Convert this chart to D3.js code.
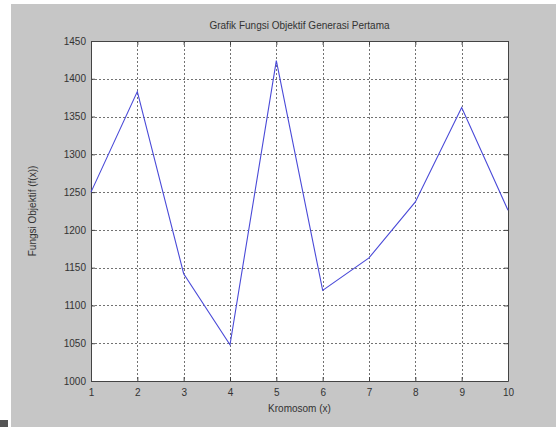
<!DOCTYPE html>
<html><head><meta charset="utf-8">
<script src="https://cdn.jsdelivr.net/npm/d3@7"></script>
<style>html,body{margin:0;padding:0;background:#fff;}svg{display:block;}</style>
</head><body>
<script>
const kromosom = [1,2,3,4,5,6,7,8,9,10];
const fitness = [1250,1383,1142,1048,1424,1120,1163,1237,1362,1226];
const xTicks = [1,2,3,4,5,6,7,8,9,10];
const yTicks = [1000,1050,1100,1150,1200,1250,1300,1350,1400,1450];
const titleText = "Grafik Fungsi Objektif Generasi Pertama";
const xLabel = "Kromosom (x)";
const yLabel = "Fungsi Objektif (f(x))";

const W = 556, H = 427;
const L = 91, R = 508, T = 41, B = 381;
const svg = d3.select("body").append("svg").attr("width", W).attr("height", H);
svg.append("rect").attr("x",0).attr("y",0).attr("width",W).attr("height",H).attr("fill","#fff");
svg.append("rect").attr("x",11).attr("y",4).attr("width",W-11).attr("height",H-4).attr("fill","#c6c6c6");
svg.append("rect").attr("x",0).attr("y",420).attr("width",8).attr("height",7).attr("fill","#555");

const x = d3.scaleLinear().domain([1,10]).range([L,R]);
const y = d3.scaleLinear().domain([1000,1450]).range([B,T]);

svg.append("rect").attr("x",L).attr("y",T).attr("width",R-L).attr("height",B-T).attr("fill","#fff");

const font = "'Liberation Sans', Arial, sans-serif";
const gridColor = "#444";
// grid
svg.append("g").selectAll("line").data(xTicks.slice(1,-1)).join("line")
  .attr("x1",d=>Math.round(x(d))+0.5).attr("x2",d=>Math.round(x(d))+0.5).attr("y1",T).attr("y2",B)
  .attr("stroke",gridColor).attr("stroke-width",1).attr("stroke-dasharray","2,2").attr("opacity",0.75);
svg.append("g").selectAll("line").data(yTicks.slice(1,-1)).join("line")
  .attr("y1",d=>Math.round(y(d))+0.5).attr("y2",d=>Math.round(y(d))+0.5).attr("x1",L).attr("x2",R)
  .attr("stroke",gridColor).attr("stroke-width",1).attr("stroke-dasharray","2,2").attr("opacity",0.75);

// axes with inward ticks
const ax = svg.append("g").attr("transform",`translate(0,${B})`)
  .call(d3.axisBottom(x).tickValues(xTicks).tickFormat(d3.format("d")).tickSizeInner(-4).tickSizeOuter(0).tickPadding(8));
const axTop = svg.append("g").attr("transform",`translate(0,${T})`)
  .call(d3.axisTop(x).tickValues(xTicks).tickFormat("").tickSizeInner(-4).tickSizeOuter(0));
const ay = svg.append("g").attr("transform",`translate(${L},0)`)
  .call(d3.axisLeft(y).tickValues(yTicks).tickFormat(d3.format("d")).tickSizeInner(-4).tickSizeOuter(0).tickPadding(5));
const ayR = svg.append("g").attr("transform",`translate(${R},0)`)
  .call(d3.axisRight(y).tickValues(yTicks).tickFormat("").tickSizeInner(-4).tickSizeOuter(0));
[ax,axTop,ay,ayR].forEach(g=>{
  g.selectAll("path").attr("stroke","#444");
  g.selectAll("line").attr("stroke","#444");
  g.selectAll("text").attr("fill","#333").style("font-family",font).style("font-size","10px");
});

// data line
svg.append("path").datum(kromosom.map((k,i)=>[k,fitness[i]]))
  .attr("d", d3.line().x(d=>x(d[0])).y(d=>y(d[1])))
  .attr("fill","none").attr("stroke","#4a4ad8").attr("stroke-width",1.1);

svg.append("text").attr("x",(L+R)/2).attr("y",29).attr("text-anchor","middle")
  .style("font-family",font).style("font-size","10px").attr("fill","#333").text(titleText);
svg.append("text").attr("x",(L+R)/2).attr("y",412).attr("text-anchor","middle")
  .style("font-family",font).style("font-size","10px").attr("fill","#333").text(xLabel);
svg.append("text").attr("transform",`translate(36,${(T+B)/2}) rotate(-90)`).attr("text-anchor","middle")
  .style("font-family",font).style("font-size","10px").attr("fill","#333").text(yLabel);
</script>
</body></html>
